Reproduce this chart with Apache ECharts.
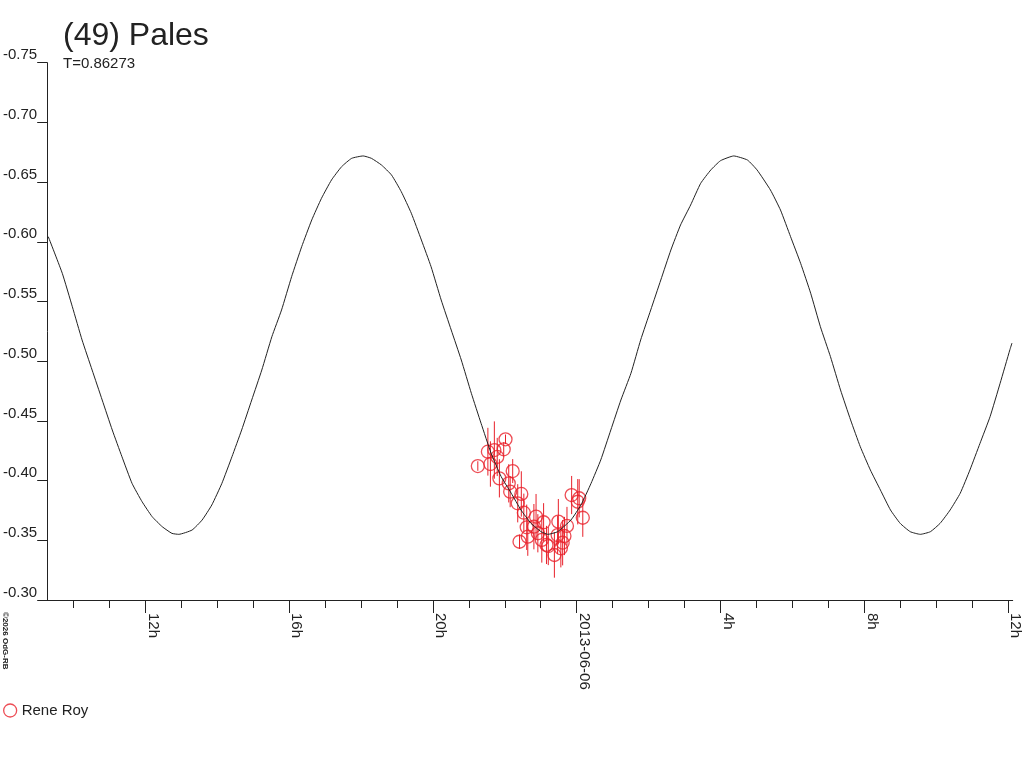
<!DOCTYPE html>
<html>
<head>
<meta charset="utf-8">
<script src="https://cdn.jsdelivr.net/npm/echarts@6/dist/echarts.min.js"></script>
<style>html,body{margin:0;padding:0;background:#fff;}#c{width:1024px;height:768px;}</style>
</head>
<body>
<div id="c"></div>
<script>
// hours relative to 2013-06-06 00:00
var curveX = [-14.70,-14.31,-14.03,-13.76,-13.48,-13.20,-12.92,-12.65,-12.37,-12.09,-11.81,-11.53,-11.26,-11.07,-10.70,-10.42,-10.15,-9.87,-9.59,-9.32,-9.04,-8.76,-8.48,-8.21,-7.93,-7.65,-7.37,-7.10,-6.82,-6.54,-6.26,-5.94,-5.71,-5.43,-5.15,-4.88,-4.60,-4.32,-4.05,-3.77,-3.49,-3.21,-2.93,-2.66,-2.38,-2.10,-1.82,-1.55,-1.27,-0.99,-0.80,-0.53,-0.16,0.12,0.40,0.67,0.95,1.23,1.51,1.78,2.06,2.34,2.62,2.89,3.17,3.45,3.73,4.00,4.37,4.75,5.02,5.39,5.67,5.95,6.23,6.51,6.78,7.06,7.34,7.62,7.89,8.17,8.45,8.73,9.00,9.28,9.56,9.84,10.11,10.39,10.67,10.94,11.22,11.50,11.78,12.05,12.11];
var curveY = [-0.6043,-0.5736,-0.5456,-0.5178,-0.4926,-0.4675,-0.4424,-0.4200,-0.3977,-0.3823,-0.3698,-0.3614,-0.3558,-0.3550,-0.3586,-0.3670,-0.3796,-0.3977,-0.4200,-0.4424,-0.4675,-0.4926,-0.5205,-0.5429,-0.5708,-0.5959,-0.6183,-0.6364,-0.6518,-0.6629,-0.6699,-0.6719,-0.6699,-0.6643,-0.6559,-0.6420,-0.6239,-0.6015,-0.5791,-0.5513,-0.5261,-0.5010,-0.4731,-0.4480,-0.4229,-0.4033,-0.3894,-0.3754,-0.3642,-0.3572,-0.3550,-0.3572,-0.3670,-0.3796,-0.3977,-0.4173,-0.4424,-0.4675,-0.4899,-0.5178,-0.5429,-0.5680,-0.5931,-0.6141,-0.6308,-0.6490,-0.6601,-0.6679,-0.6719,-0.6685,-0.6601,-0.6434,-0.6266,-0.6043,-0.5820,-0.5569,-0.5289,-0.5038,-0.4759,-0.4508,-0.4284,-0.4089,-0.3921,-0.3754,-0.3642,-0.3572,-0.3550,-0.3572,-0.3642,-0.3754,-0.3894,-0.4089,-0.4312,-0.4535,-0.4815,-0.5094,-0.5152];

var obsX = [-2.75,-2.47,-2.40,-2.29,-2.21,-2.03,-1.98,-2.15,-1.89,-1.78,-1.85,-1.54,-1.64,-1.47,-1.59,-1.39,-1.36,-1.19,-1.13,-0.92,-1.08,-0.97,-0.84,-0.79,-0.62,-0.51,-0.53,-0.44,-0.39,-0.34,-0.27,-0.14,0.07,0.03,0.17];
var obsY = [-0.4122,-0.4242,-0.4139,-0.4256,-0.4198,-0.4262,-0.4346,-0.4019,-0.3977,-0.4080,-0.3907,-0.3888,-0.3810,-0.3731,-0.3488,-0.3609,-0.3530,-0.3614,-0.3698,-0.3651,-0.3559,-0.3503,-0.3461,-0.3452,-0.3377,-0.3656,-0.3544,-0.3433,-0.3480,-0.3536,-0.3620,-0.3879,-0.3852,-0.3823,-0.3689];
var obsErr = [0.004,0.020,0.019,0.024,0.016,0.006,0.004,0.016,0.016,0.010,0.013,0.019,0.016,0.016,0.006,0.019,0.016,0.019,0.019,0.016,0.016,0.019,0.016,0.016,0.019,0.019,0.016,0.016,0.019,0.016,0.016,0.016,0.016,0.019,0.016];

var majorTicks = [-12,-8,-4,0,4,8,12];
var majorLabels = ['12h','16h','20h','2013-06-06','4h','8h','12h'];
var minorTicks = [-14,-13,-11,-10,-9,-7,-6,-5,-3,-2,-1,1,2,3,5,6,7,9,10,11];
var yTicksMin = -0.75, yTicksMax = -0.30, yStep = 0.05;

var FONT = 'Liberation Sans, Arial, sans-serif';
var INK = '#222';
var RED = '#e8202a';
var XMIN = -14.73, XMAX = 12.13;

var curve = curveX.map(function (x, i) { return [x, curveY[i]]; });
var obs = obsX.map(function (x, i) { return [x, obsY[i]]; });
var bars = obsX.map(function (x, i) { return [x, obsY[i] - obsErr[i], obsY[i] + obsErr[i]]; });

var chart = echarts.init(document.getElementById('c'), null, {renderer: 'canvas'});
chart.setOption({
  animation: false,
  backgroundColor: '#fff',
  title: {
    text: '(49) Pales',
    subtext: 'T=0.86273',
    left: 63, top: 20, itemGap: 4, padding: 0,
    textStyle: {fontFamily: FONT, fontSize: 32, fontWeight: 'normal', color: INK},
    subtextStyle: {fontFamily: FONT, fontSize: 15, color: INK}
  },
  legend: {
    data: [{name: 'Rene Roy', icon: 'circle', itemStyle: {color: 'rgba(0,0,0,0)', borderColor: RED, borderWidth: 1.3}}],
    left: 3, top: 703, padding: 0,
    itemWidth: 13, itemHeight: 13,
    textStyle: {fontFamily: FONT, fontSize: 15, color: INK}
  },
  grid: {left: 45, right: 11.3, top: 62.7, bottom: 168, containLabel: false},
  xAxis: [{
    type: 'value', min: XMIN, max: XMAX, position: 'bottom',
    axisLine: {show: true, onZero: false, lineStyle: {color: INK, width: 1}},
    axisTick: {show: true, length: 13, customValues: majorTicks, lineStyle: {color: INK}},
    axisLabel: {
      show: true, customValues: majorTicks, rotate: -90, margin: 13,
      align: 'left', verticalAlign: 'bottom',
      fontFamily: FONT, fontSize: 15, color: INK,
      formatter: function (v) { var i = majorTicks.indexOf(Math.round(v)); return i >= 0 ? majorLabels[i] : ''; }
    },
    splitLine: {show: false}
  }, {
    type: 'value', min: XMIN, max: XMAX, position: 'bottom',
    axisLine: {show: false, onZero: false},
    axisTick: {show: true, length: 8, customValues: minorTicks, lineStyle: {color: INK}},
    axisLabel: {show: false},
    splitLine: {show: false}
  }],
  yAxis: {
    type: 'value', inverse: true, min: yTicksMin, max: yTicksMax, interval: yStep,
    axisLine: {show: true, onZero: false, lineStyle: {color: INK, width: 1}},
    axisTick: {show: true, length: 10, lineStyle: {color: INK}},
    axisLabel: {
      margin: 10, align: 'right', verticalAlign: 'bottom',
      fontFamily: FONT, fontSize: 15, color: INK,
      formatter: function (v) { return v.toFixed(2); }
    },
    splitLine: {show: false}
  },
  graphic: [{
    type: 'text', x: 5, y: 612, rotation: -Math.PI / 2,
    style: {text: '\u00a92026 OdG-RB', fontFamily: FONT, fontSize: 8, fontWeight: 'bold', fill: INK, align: 'left', verticalAlign: 'middle'}
  }],
  series: [{
    name: 'errbars', type: 'custom', xAxisIndex: 0, data: bars, silent: true, z: 2,
    renderItem: function (params, api) {
      var a = api.coord([api.value(0), api.value(1)]);
      var b = api.coord([api.value(0), api.value(2)]);
      return {type: 'line', shape: {x1: a[0], y1: a[1], x2: b[0], y2: b[1]}, style: {stroke: RED, lineWidth: 1}};
    }
  }, {
    name: 'Rene Roy', type: 'scatter', xAxisIndex: 0, data: obs, symbol: 'circle', symbolSize: 13, z: 3,
    itemStyle: {color: 'rgba(0,0,0,0)', borderColor: RED, borderWidth: 1.3}
  }, {
    name: 'model', type: 'line', xAxisIndex: 0, data: curve, showSymbol: false, smooth: 0.15, z: 4,
    lineStyle: {color: INK, width: 1}
  }]
});
</script>
</body>
</html>
